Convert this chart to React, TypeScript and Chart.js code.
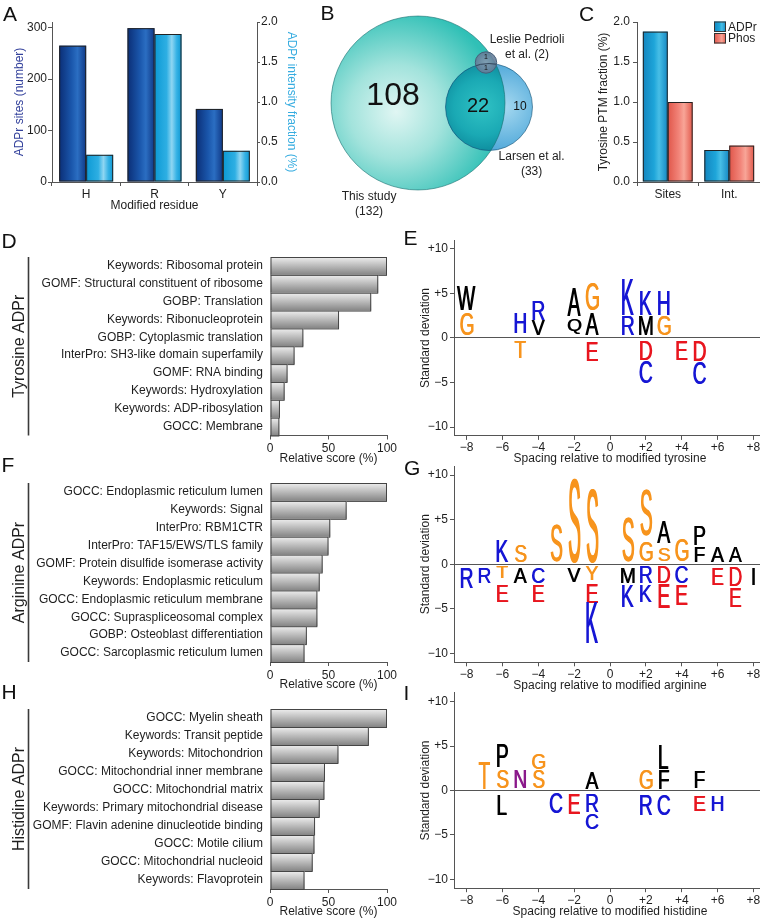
import React, { useEffect, useRef } from "react";
import { Chart, registerables } from "chart.js";

Chart.register(...registerables);

const FONT = "'Liberation Sans', Arial, Helvetica, sans-serif";
Chart.defaults.font.family = FONT;
Chart.defaults.font.size = 12;
Chart.defaults.color = "#1e1e1e";

// ---------------- DATA ----------------
// A
const residues = ["H", "R", "Y"];
const adprSiteCounts = [265, 299, 142];
const adprIntensityFraction = [0.34, 1.85, 0.39];

// B (Venn, area-proportional circles)
const vennSetNames = ["This study", "Larsen et al.", "Leslie Pedrioli et al."];
const vennSetSizes = [132, 33, 2];
const vennCenterX = [0, 9.38, 8.98];
const vennCenterY = [0, -0.53, 5.35];
const vennRegionCounts = ["108", "22", "10", "1", "1"];
const vennRegionX = [-3.3, 7.93, 13.47, 8.98, 8.98];
const vennRegionY = [0.92, -0.4, -0.53, 6.08, 4.62];
const vennNameLines = [["This study", "(132)"], ["Larsen et al.", "(33)"], ["Leslie Pedrioli", "et al. (2)"]];
const vennNameX = [-6.47, 15.0, 14.4];
const vennNameY = [-12.42, -7.13, 8.32];

// C
const ptmMeasures = ["Sites", "Int."];
const adprTyrFraction = [1.88, 0.4];
const phosTyrFraction = [1.0, 0.455];

// D
const tyrTerms = [
  "Keywords: Ribosomal protein",
  "GOMF: Structural constituent of ribosome",
  "GOBP: Translation",
  "Keywords: Ribonucleoprotein",
  "GOBP: Cytoplasmic translation",
  "InterPro: SH3-like domain superfamily",
  "GOMF: RNA binding",
  "Keywords: Hydroxylation",
  "Keywords: ADP-ribosylation",
  "GOCC: Membrane",
];
const tyrScores = [100, 92.5, 86.5, 59, 28.5, 21, 15, 12.5, 8.5, 8];

// F
const argTerms = [
  "GOCC: Endoplasmic reticulum lumen",
  "Keywords: Signal",
  "InterPro: RBM1CTR",
  "InterPro: TAF15/EWS/TLS family",
  "GOMF: Protein disulfide isomerase activity",
  "Keywords: Endoplasmic reticulum",
  "GOCC: Endoplasmic reticulum membrane",
  "GOCC: Supraspliceosomal complex",
  "GOBP: Osteoblast differentiation",
  "GOCC: Sarcoplasmic reticulum lumen",
];
const argScores = [100, 65.5, 51.5, 50, 45, 42.5, 40.5, 40.5, 31.5, 29.5];

// H
const hisTerms = [
  "GOCC: Myelin sheath",
  "Keywords: Transit peptide",
  "Keywords: Mitochondrion",
  "GOCC: Mitochondrial inner membrane",
  "GOCC: Mitochondrial matrix",
  "Keywords: Primary mitochondrial disease",
  "GOMF: Flavin adenine dinucleotide binding",
  "GOCC: Motile cilium",
  "GOCC: Mitochondrial nucleoid",
  "Keywords: Flavoprotein",
];
const hisScores = [100, 84.5, 58.5, 47, 46.5, 42.5, 38.5, 38, 36.5, 29.5];

// E (tyrosine logo)
const tyrPos = [-8, -8, -5, -5, -4, -4, -2, -2, -1, -1, -1, 1, 1, 2, 2, 2, 2, 3, 3, 4, 5, 5];
const tyrAA = ["G", "W", "H", "T", "V", "R", "Q", "A", "A", "G", "E", "R", "K", "M", "K", "D", "C", "G", "H", "E", "D", "C"];
const tyrLo = [0.37, 3.1, 0.56, -2.25, 0.37, 2.06, 0.45, 2.43, 0.37, 3.1, -2.62, 0.37, 2.62, 0.37, 2.62, -2.43, -5.06, 0.37, 2.62, -2.43, -2.62, -5.13];
const tyrHi = [2.73, 5.8, 2.8, -0.49, 2.06, 4.23, 2.06, 5.5, 2.73, 6.0, -0.49, 2.43, 6.63, 2.43, 5.3, -0.26, -2.62, 2.43, 5.24, -0.37, -0.37, -2.81];

// G (arginine logo)
const argPos = [-8, -7, -6, -6, -6, -5, -5, -4, -4, -3, -2, -2, -1, -1, -1, -1, 1, 1, 1, 2, 2, 2, 2, 3, 3, 3, 3, 4, 4, 4, 5, 5, 6, 6, 7, 7, 7, 8];
const argAA = ["R", "R", "K", "T", "E", "S", "A", "C", "E", "S", "S", "V", "S", "Y", "E", "K", "S", "M", "K", "G", "S", "R", "K", "S", "A", "D", "E", "G", "C", "E", "F", "P", "A", "E", "A", "D", "E", "I"];
const argLo = [-2.69, -2.13, 0.3, -1.57, -4.19, 0.3, -2.13, -2.13, -4.19, 0.4, 0.3, -1.95, 0.3, -1.76, -4.37, -8.86, 0.41, -2.13, -4.75, 0.41, 3.29, -2.13, -4.19, 0.41, 2.36, -2.13, -4.93, 0.41, -2.13, -4.56, 0.3, 2.17, 0.3, -2.32, 0.3, -2.5, -4.75, -2.32];
const argHi = [-0.45, -0.45, 2.65, -0.26, -2.32, 2.17, -0.45, -0.45, -2.32, 4.4, 9.27, -0.45, 8.15, -0.26, -2.32, -4.37, 5.16, -0.45, -2.32, 2.54, 8.15, -0.26, -2.32, 1.79, 4.79, -0.26, -2.32, 2.73, -0.26, -2.32, 1.98, 4.22, 1.98, -0.45, 1.98, -0.45, -2.69, -0.45];

// I (histidine logo)
const hisPos = [-7, -6, -6, -6, -5, -4, -4, -3, -2, -1, -1, -1, 2, 2, 3, 3, 3, 5, 5, 6];
const hisAA = ["T", "S", "P", "L", "N", "S", "G", "C", "E", "A", "R", "C", "G", "R", "F", "L", "C", "F", "E", "H"];
const hisLo = [0.19, 0.3, 2.63, -2.81, 0.3, 0.3, 2.4, -2.55, -2.63, 0.19, -2.4, -4.28, 0.19, -2.81, 0.19, 2.44, -2.81, 0.3, -2.3, -2.3];
const hisHi = [3.08, 2.33, 5.1, -0.56, 2.33, 2.25, 4.13, -0.37, -0.37, 2.06, -0.37, -2.55, 2.25, -0.56, 2.25, 5.07, -0.56, 2.06, -0.56, -0.56];

// ---------------- STYLES ----------------
type Stop = [number, string];
const DARK_BLUE: Stop[] = [[0, "#0b2e76"], [0.45, "#1a56ab"], [0.68, "#2b6ec2"], [1, "#0f3886"]];
const LIGHT_BLUE: Stop[] = [[0, "#0c99d4"], [0.45, "#2eafe3"], [0.64, "#8fd6f2"], [0.82, "#36b2e5"], [1, "#0d97d2"]];
const ADPR_C: Stop[] = [[0, "#1285bf"], [0.45, "#1ea5d9"], [0.65, "#47bee6"], [1, "#1487c2"]];
const PHOS_C: Stop[] = [[0, "#e0564a"], [0.45, "#f2857a"], [0.65, "#f8a597"], [1, "#e2594c"]];
const GRAY: Stop[] = [[0, "#efefef"], [0.3, "#cfcfcf"], [1, "#858585"]];
const AXIS = "#555";
const AA_COLORS: Record<string, string> = {
  G: "#f7941d", S: "#f7941d", T: "#f7941d", Y: "#f7941d",
  K: "#1616d4", R: "#1616d4", H: "#1616d4", C: "#1616d4",
  D: "#e8161f", E: "#e8161f", N: "#8b1a8b",
};
const VENN_REGION_FONT = [32, 20, 12, 7, 7];

const signed = (v: any) => {
  const n = Number(v);
  if (n > 0) return "+" + n;
  if (n < 0) return "\u2212" + Math.abs(n);
  return "0";
};

// ---------------- PLUGINS ----------------
function barRect(el: any) {
  const p = el.getProps(["x", "y", "base", "width", "height", "horizontal"], true);
  if (p.horizontal) {
    return { l: Math.min(p.x, p.base), r: Math.max(p.x, p.base), t: p.y - p.height / 2, b: p.y + p.height / 2 };
  }
  return { l: p.x - p.width / 2, r: p.x + p.width / 2, t: Math.min(p.y, p.base), b: Math.max(p.y, p.base) };
}

function fillGrad(ctx: CanvasRenderingContext2D, stops: Stop[], l: number, t: number, r: number, b: number, vertical: boolean) {
  if (![l, t, r, b].every(Number.isFinite)) return;
  const g = vertical ? ctx.createLinearGradient(0, t, 0, b + 0.001) : ctx.createLinearGradient(l, 0, r + 0.001, 0);
  stops.forEach(([o, c]) => g.addColorStop(o, c));
  ctx.fillStyle = g;
  ctx.fillRect(l, t, r - l, b - t);
}

const gradBarPlugin = {
  id: "gradBars",
  beforeDatasetDraw(chart: any, args: any) {
    const ds = chart.data.datasets[args.index];
    if (!ds.grad) return;
    const ctx = chart.ctx as CanvasRenderingContext2D;
    ctx.save();
    for (const el of args.meta.data) {
      const { l, r, t, b } = barRect(el);
      if (![l, t, r, b].every(Number.isFinite)) continue;
      fillGrad(ctx, ds.grad, l, t, r, b, !!ds.gradVertical);
      ctx.strokeStyle = ds.edge || "#333";
      ctx.lineWidth = 1;
      ctx.strokeRect(l + 0.5, t + 0.5, r - l - 1, b - t - (ds.gradVertical ? 0 : 1));
    }
    ctx.restore();
    return false;
  },
};

const groupLinePlugin = {
  id: "groupLine",
  afterDraw(chart: any) {
    const { ctx, chartArea } = chart;
    ctx.save();
    ctx.strokeStyle = "#3a3a3a";
    ctx.lineWidth = 1.6;
    ctx.beginPath();
    ctx.moveTo(28.5, chartArea.top);
    ctx.lineTo(28.5, chartArea.bottom);
    ctx.stroke();
    ctx.restore();
  },
};

const logoPlugin = {
  id: "logoLetters",
  beforeDatasetDraw(chart: any, args: any) {
    const ds = chart.data.datasets[args.index];
    const letters: string[] = ds.letters;
    const ctx = chart.ctx as CanvasRenderingContext2D;
    const xs = chart.scales.x;
    const unit = Math.abs(xs.getPixelForValue(1) - xs.getPixelForValue(0));
    ctx.save();
    ctx.font = `${(unit * 1.07).toFixed(2)}px ${FONT}`;
    ctx.textAlign = "center";
    ctx.textBaseline = "alphabetic";
    args.meta.data.forEach((el: any, i: number) => {
      const { l, r, t, b } = barRect(el);
      if (![l, t, r, b].every(Number.isFinite)) return;
      const cx = (l + r) / 2;
      const ch = letters[i];
      const m = ctx.measureText(ch);
      const asc = m.actualBoundingBoxAscent;
      const desc = m.actualBoundingBoxDescent;
      const inkShift = (m.actualBoundingBoxRight - m.actualBoundingBoxLeft) / 2;
      const sy = (b - t) / (asc + desc);
      ctx.fillStyle = AA_COLORS[ch] || "#000";
      for (const dx of [-0.35, 0.35]) {
        ctx.save();
        ctx.translate(cx - inkShift + dx, b);
        ctx.scale(1, sy);
        ctx.fillText(ch, 0, -desc);
        ctx.restore();
      }
    });
    ctx.restore();
    return false;
  },
};

function vennGeometry(chart: any) {
  const { x, y } = chart.scales;
  const unit = Math.abs(x.getPixelForValue(1) - x.getPixelForValue(0));
  return vennSetSizes.map((n, i) => {
    const e = chart.getDatasetMeta(i).data[0];
    const ex = e && Number.isFinite(e.x) ? e.x : x.getPixelForValue(vennCenterX[i]);
    const ey = e && Number.isFinite(e.y) ? e.y : y.getPixelForValue(vennCenterY[i]);
    return { x: ex, y: ey, r: Math.sqrt(n) * unit };
  });
}

const vennPlugin = {
  id: "venn",
  beforeDatasetsDraw(chart: any) {
    const ctx = chart.ctx as CanvasRenderingContext2D;
    const [big, mid, small] = vennGeometry(chart);
    const circle = (c: any) => {
      ctx.beginPath();
      ctx.arc(c.x, c.y, c.r, 0, Math.PI * 2);
    };
    ctx.save();
    let gx = big.x - big.r * 0.25, gy = big.y + big.r * 0.1;
    let g = ctx.createRadialGradient(gx, gy, 0, gx, gy, big.r * 1.2);
    g.addColorStop(0, "#e0f6f3");
    g.addColorStop(0.45, "#a2e3dc");
    g.addColorStop(1, "#30c0b6");
    circle(big);
    ctx.fillStyle = g;
    ctx.fill();

    gx = mid.x + mid.r * 0.35; gy = mid.y;
    g = ctx.createRadialGradient(gx, gy, 0, gx, gy, mid.r * 1.1);
    g.addColorStop(0, "#a6d9f0");
    g.addColorStop(1, "#4aa5d8");
    circle(mid);
    ctx.fillStyle = g;
    ctx.fill();

    ctx.save();
    circle(big);
    ctx.clip();
    gx = mid.x - mid.r * 0.15; gy = mid.y;
    g = ctx.createRadialGradient(gx, gy, 0, gx, gy, mid.r * 1.1);
    g.addColorStop(0, "#30c2c4");
    g.addColorStop(0.6, "#1aa9b4");
    g.addColorStop(1, "#0c889a");
    circle(mid);
    ctx.fillStyle = g;
    ctx.fill();
    ctx.restore();

    ctx.lineWidth = 1;
    circle(mid);
    ctx.strokeStyle = "rgba(18,80,115,0.6)";
    ctx.stroke();
    circle(big);
    ctx.strokeStyle = "rgba(20,110,110,0.6)";
    ctx.stroke();

    gx = small.x; gy = small.y;
    g = ctx.createRadialGradient(gx, gy, 0, gx, gy, small.r);
    g.addColorStop(0, "rgba(135,155,178,0.9)");
    g.addColorStop(1, "rgba(98,122,150,0.9)");
    circle(small);
    ctx.fillStyle = g;
    ctx.fill();
    ctx.save();
    circle(small);
    ctx.clip();
    circle(mid);
    ctx.strokeStyle = "rgba(40,60,80,0.85)";
    ctx.stroke();
    ctx.restore();
    circle(small);
    ctx.strokeStyle = "#46607a";
    ctx.stroke();
    ctx.restore();
    return false;
  },
  afterDraw(chart: any) {
    const ctx = chart.ctx as CanvasRenderingContext2D;
    const { x, y } = chart.scales;
    ctx.save();
    ctx.textAlign = "center";
    ctx.textBaseline = "middle";
    ctx.fillStyle = "#111";
    vennRegionCounts.forEach((t, i) => {
      ctx.font = `${VENN_REGION_FONT[i]}px ${FONT}`;
      ctx.fillText(t, x.getPixelForValue(vennRegionX[i]), y.getPixelForValue(vennRegionY[i]));
    });
    ctx.font = `12px ${FONT}`;
    ctx.fillStyle = "#222";
    vennNameLines.forEach((lines, i) => {
      lines.forEach((ln, j) => {
        ctx.fillText(ln, x.getPixelForValue(vennNameX[i]), y.getPixelForValue(vennNameY[i]) + j * 15);
      });
    });
    ctx.restore();
  },
};

const boxLegendPlugin = {
  id: "boxLegend",
  afterDraw(chart: any) {
    const ctx = chart.ctx as CanvasRenderingContext2D;
    const { chartArea } = chart;
    ctx.save();
    chart.data.datasets.forEach((ds: any, i: number) => {
      const bx = chartArea.right - 46;
      const by = chartArea.top - 0.5 + i * 11.5;
      fillGrad(ctx, ds.grad, bx, by, bx + 12, by + 10.5, false);
      ctx.strokeStyle = "#333";
      ctx.lineWidth = 1;
      ctx.strokeRect(bx + 0.5, by + 0.5, 11, 9.5);
      ctx.fillStyle = "#1e1e1e";
      ctx.font = `12px ${FONT}`;
      ctx.textAlign = "left";
      ctx.textBaseline = "middle";
      ctx.fillText(ds.label, bx + 14, by + 6);
    });
    ctx.restore();
  },
};

// ---------------- CONFIGS ----------------
const tickGrid = (len: number) => ({ drawOnChartArea: false, tickLength: len, color: AXIS });

function configA() {
  return {
    type: "bar",
    data: {
      labels: residues,
      datasets: [
        { label: "ADPr sites", data: adprSiteCounts, yAxisID: "y", grad: DARK_BLUE, edge: "#222" },
        { label: "ADPr intensity", data: adprIntensityFraction, yAxisID: "y1", grad: LIGHT_BLUE, edge: "#222" },
      ],
    },
    options: {
      responsive: false,
      animation: false,
      layout: { padding: { top: 22, left: 0, right: 0, bottom: 0 } },
      datasets: { bar: { categoryPercentage: 0.79, barPercentage: 1 } },
      plugins: { legend: { display: false }, tooltip: { enabled: false } },
      scales: {
        x: {
          afterFit: (s: any) => { s.height = 33; },
          grid: tickGrid(4),
          border: { color: AXIS },
          ticks: { padding: 1, maxRotation: 0 },
          title: { display: true, text: "Modified residue", padding: { top: 0, bottom: 2 } },
        },
        y: {
          position: "left",
          min: 0,
          max: 311,
          afterFit: (s: any) => { s.width = 52; },
          ticks: { stepSize: 100, includeBounds: false, padding: 1 },
          grid: tickGrid(4),
          border: { color: AXIS },
          title: { display: true, text: "ADPr sites (number)", color: "#34429c", padding: { top: 12 } },
        },
        y1: {
          position: "right",
          min: 0,
          max: 2,
          afterFit: (s: any) => { s.width = 53; },
          ticks: { stepSize: 0.5, includeBounds: false, padding: 1, callback: (v: any) => Number(v).toFixed(1) },
          grid: tickGrid(3),
          border: { color: AXIS },
          title: { display: true, text: "ADPr intensity fraction (%)", color: "#36ace0", padding: { top: 11 } },
        },
      },
    },
    plugins: [gradBarPlugin],
  };
}

function configB() {
  return {
    type: "bubble",
    data: {
      datasets: vennSetNames.map((name, i) => ({
        label: name,
        data: [{ x: vennCenterX[i], y: vennCenterY[i] }],
      })),
    },
    options: {
      responsive: false,
      animation: false,
      layout: { autoPadding: false, padding: 0 },
      plugins: { legend: { display: false }, tooltip: { enabled: false } },
      scales: {
        x: { type: "linear", display: false, min: -14.27, max: 21.4 },
        y: { type: "linear", display: false, min: -15.46, max: 13.61 },
      },
    },
    plugins: [vennPlugin],
  };
}

function configC() {
  return {
    type: "bar",
    data: {
      labels: ptmMeasures,
      datasets: [
        { label: "ADPr", data: adprTyrFraction, grad: ADPR_C, edge: "#222" },
        { label: "Phos", data: phosTyrFraction, grad: PHOS_C, edge: "#222" },
      ],
    },
    options: {
      responsive: false,
      animation: false,
      layout: { padding: { top: 22, left: 0, right: 1, bottom: 0 } },
      datasets: { bar: { categoryPercentage: 0.81, barPercentage: 1 } },
      plugins: { legend: { display: false }, tooltip: { enabled: false } },
      scales: {
        x: {
          afterFit: (s: any) => { s.height = 33; },
          grid: tickGrid(4),
          border: { color: AXIS },
          ticks: { padding: 1, maxRotation: 0 },
        },
        y: {
          min: 0,
          max: 2,
          afterFit: (s: any) => { s.width = 57; },
          ticks: { stepSize: 0.5, includeBounds: false, padding: 3, callback: (v: any) => Number(v).toFixed(1) },
          grid: tickGrid(4),
          border: { color: AXIS },
          title: { display: true, text: "Tyrosine PTM fraction (%)", padding: { top: 16 } },
        },
      },
    },
    plugins: [gradBarPlugin, boxLegendPlugin],
  };
}

function configHBar(terms: string[], scores: number[], group: string, xAxisHeight: number) {
  return {
    type: "bar",
    data: {
      labels: terms,
      datasets: [{ label: group, data: scores, grad: GRAY, gradVertical: true, edge: "#454545" }],
    },
    options: {
      indexAxis: "y",
      responsive: false,
      animation: false,
      layout: { padding: { top: 32, right: 23, left: 0, bottom: 0 } },
      datasets: { bar: { categoryPercentage: 1, barPercentage: 1 } },
      plugins: { legend: { display: false }, tooltip: { enabled: false } },
      scales: {
        x: {
          min: 0,
          max: 100,
          afterFit: (s: any) => { s.height = xAxisHeight; },
          ticks: { stepSize: 50, includeBounds: false, padding: 2, maxRotation: 0 },
          grid: tickGrid(4),
          border: { color: AXIS },
          title: { display: true, text: "Relative score (%)", padding: { top: 0, bottom: 4 } },
        },
        y: {
          afterFit: (s: any) => { s.width = 270; },
          grid: { display: false, drawTicks: false },
          border: { display: false },
          ticks: { padding: 7, autoSkip: false },
          title: { display: true, text: group, font: { size: 16 }, padding: { top: 10.4 } },
        },
      },
    },
    plugins: [gradBarPlugin, groupLinePlugin],
  };
}

function configLogo(pos: number[], aa: string[], lo: number[], hi: number[], title: string, padTop: number, xAxisHeight: number) {
  return {
    type: "bar",
    data: {
      datasets: [
        {
          label: title,
          data: pos.map((p, i) => ({ x: p, y: [lo[i], hi[i]] })),
          letters: aa,
          backgroundColor: "rgba(0,0,0,0)",
        },
      ],
    },
    options: {
      responsive: false,
      animation: false,
      layout: { padding: { top: padTop, right: 14, left: 0, bottom: 0 } },
      datasets: { bar: { categoryPercentage: 1, barPercentage: 0.8 } },
      plugins: { legend: { display: false }, tooltip: { enabled: false } },
      scales: {
        x: {
          type: "linear",
          min: -8.7,
          max: 8.7,
          offset: false,
          afterFit: (s: any) => { s.height = xAxisHeight; },
          grid: { offset: false, drawOnChartArea: false, tickLength: 4, color: AXIS },
          border: { color: AXIS },
          ticks: { stepSize: 2, includeBounds: false, padding: 1, maxRotation: 0, autoSkip: false, callback: signed },
          title: { display: true, text: title, padding: { top: 0, bottom: 4 } },
        },
        y: {
          min: -11,
          max: 11,
          afterFit: (s: any) => { s.width = 74; },
          grid: {
            color: (c: any) => (c.tick && c.tick.value === 0 ? AXIS : "rgba(0,0,0,0)"),
            tickColor: AXIS,
            tickLength: 4,
          },
          border: { color: AXIS },
          ticks: { stepSize: 5, includeBounds: false, padding: 2, callback: signed },
          title: { display: true, text: "Standard deviation", padding: { top: 38 } },
        },
      },
    },
    plugins: [logoPlugin],
  };
}

// ---------------- COMPONENTS ----------------
function ChartBox(props: { left: number; top: number; width: number; height: number; make: () => any }) {
  const ref = useRef<HTMLCanvasElement | null>(null);
  useEffect(() => {
    if (!ref.current) return;
    let chart: any = null;
    try {
      chart = new Chart(ref.current, props.make());
    } catch (e) {
      console.error(e);
    }
    return () => {
      if (chart) chart.destroy();
    };
  }, []);
  const { left, top, width, height } = props;
  return (
    <canvas
      ref={ref}
      width={width}
      height={height}
      style={{ position: "absolute", left, top, width, height }}
    />
  );
}

function HBarPanel(props: { terms: string[]; scores: number[]; group: string; areaTop: number; areaBottom: number }) {
  const top = Math.floor(props.areaTop - 32);
  const height = Math.ceil(props.areaBottom + 34 - top);
  const xh = height - 32 - (props.areaBottom - props.areaTop) - (props.areaTop - 32 - top);
  return (
    <ChartBox
      left={0}
      top={top}
      width={410}
      height={height}
      make={() => configHBar(props.terms, props.scores, props.group, xh)}
    />
  );
}

function LogoPanel(props: { pos: number[]; aa: string[]; lo: number[]; hi: number[]; title: string; areaTop: number; areaBottom: number }) {
  const top = Math.floor(props.areaTop - 16);
  const padTop = props.areaTop - top;
  const height = Math.ceil(props.areaBottom + 34 - top);
  const xh = height - padTop - (props.areaBottom - props.areaTop);
  return (
    <ChartBox
      left={380}
      top={top}
      width={400}
      height={height}
      make={() => configLogo(props.pos, props.aa, props.lo, props.hi, props.title, padTop, xh)}
    />
  );
}

function PanelLetter({ text, left, top }: { text: string; left: number; top: number }) {
  return (
    <div
      style={{
        position: "absolute",
        left,
        top,
        fontFamily: FONT,
        fontSize: 21,
        lineHeight: "21px",
        color: "#111",
      }}
    >
      {text}
    </div>
  );
}

export default function App() {
  return (
    <div
      style={{
        position: "absolute",
        left: 0,
        top: 0,
        width: 760,
        height: 920,
        overflow: "hidden",
        background: "#fff",
      }}
    >
      <ChartBox left={0} top={0} width={310} height={215} make={configA} />
      <ChartBox left={310} top={0} width={270} height={220} make={configB} />
      <ChartBox left={580} top={0} width={181} height={215} make={configC} />

      <HBarPanel terms={tyrTerms} scores={tyrScores} group="Tyrosine ADPr" areaTop={257} areaBottom={435.5} />
      <HBarPanel terms={argTerms} scores={argScores} group="Arginine ADPr" areaTop={483} areaBottom={662} />
      <HBarPanel terms={hisTerms} scores={hisScores} group="Histidine ADPr" areaTop={709} areaBottom={889} />

      <LogoPanel pos={tyrPos} aa={tyrAA} lo={tyrLo} hi={tyrHi} title="Spacing relative to modified tyrosine" areaTop={240.1} areaBottom={435.9} />
      <LogoPanel pos={argPos} aa={argAA} lo={argLo} hi={argHi} title="Spacing relative to modified arginine" areaTop={466.1} areaBottom={662.3} />
      <LogoPanel pos={hisPos} aa={hisAA} lo={hisLo} hi={hisHi} title="Spacing relative to modified histidine" areaTop={692.8} areaBottom={888.2} />

      <PanelLetter text="A" left={3} top={3.3} />
      <PanelLetter text="B" left={320.5} top={2.3} />
      <PanelLetter text="C" left={579} top={3.3} />
      <PanelLetter text="D" left={1.5} top={230.3} />
      <PanelLetter text="E" left={403.5} top={227.3} />
      <PanelLetter text="F" left={1.5} top={454.3} />
      <PanelLetter text="G" left={404} top={457.3} />
      <PanelLetter text="H" left={1.5} top={681.3} />
      <PanelLetter text="I" left={403.5} top={682.3} />
    </div>
  );
}
